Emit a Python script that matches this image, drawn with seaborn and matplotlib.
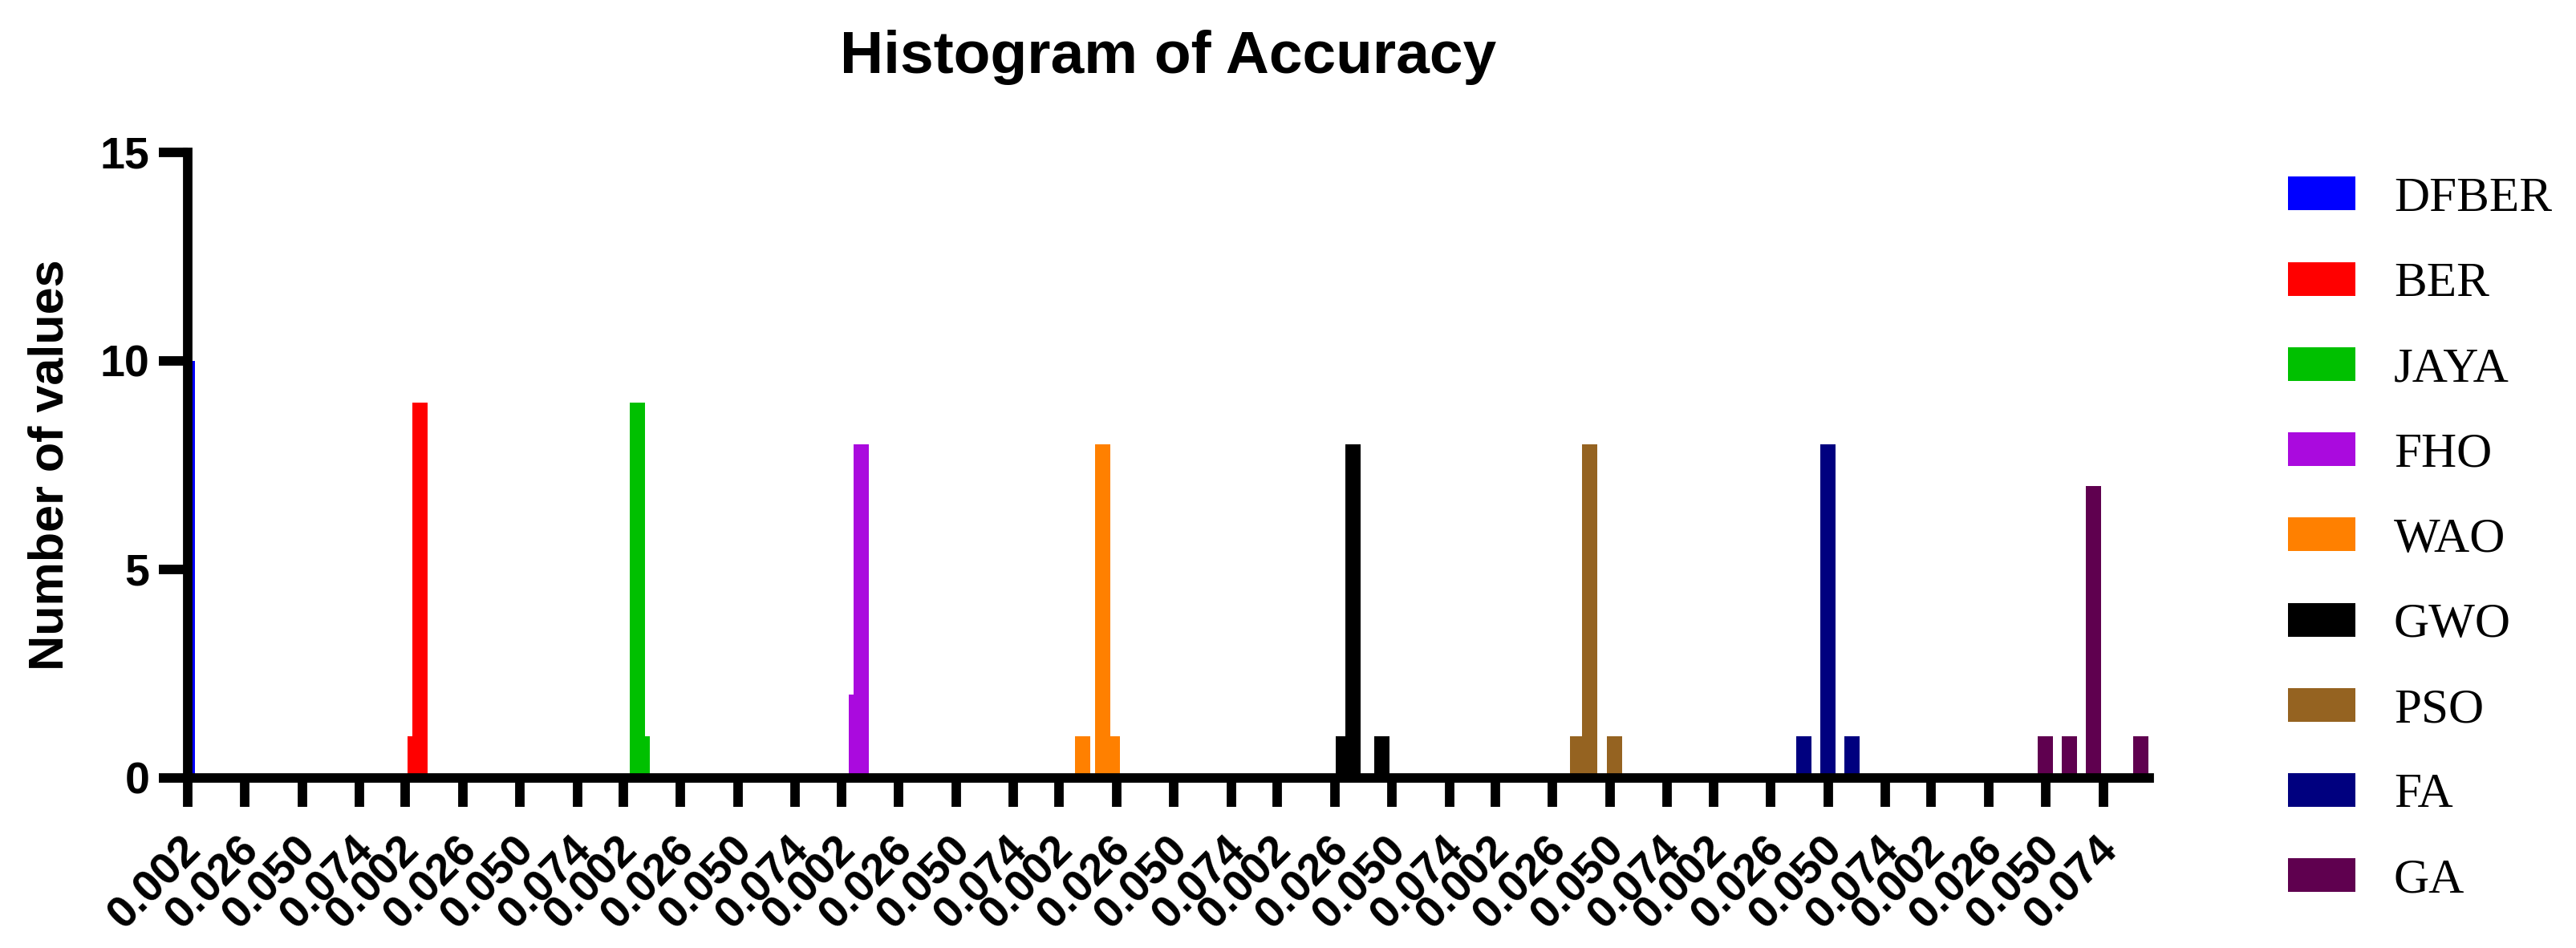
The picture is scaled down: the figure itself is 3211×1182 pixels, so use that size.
import numpy as np
import matplotlib
matplotlib.use("Agg")
import matplotlib.pyplot as plt
import matplotlib.transforms as mtransforms
from matplotlib.patches import Patch
import seaborn as sns

# algorithms, colours and the frequency bins
algorithms = ["DFBER", "BER", "JAYA", "FHO", "WAO", "GWO", "PSO", "FA", "GA"]
colors = ["#0000FF", "#FF0000", "#00C000", "#AA0ADE", "#FF8000",
          "#000000", "#956321", "#00007F", "#5F004F"]

# bin centres (accuracy) and number of values in each bin
dfber_bins, dfber_counts = [0.0020], [10]
ber_bins, ber_counts = [0.0061, 0.0081], [1, 9]
jaya_bins, jaya_counts = [0.0078, 0.0099], [9, 1]
fho_bins, fho_counts = [0.0082, 0.0104], [2, 8]
wao_bins, wao_counts = [0.0117, 0.0201, 0.0243], [1, 8, 1]
gwo_bins, gwo_counts = [0.0297, 0.0337, 0.0457], [1, 8, 1]
pso_bins, pso_counts = [0.0364, 0.0416, 0.0520], [1, 8, 1]
fa_bins, fa_counts = [0.0400, 0.0501, 0.0602], [1, 8, 1]
ga_bins, ga_counts = [0.0498, 0.0598, 0.0698, 0.0898], [1, 1, 7, 1]
bin_widths = [0.0020, 0.0020, 0.0021, 0.0022, 0.0042, 0.0040, 0.0052, 0.0101, 0.0100]

all_bins = [dfber_bins, ber_bins, jaya_bins, fho_bins, wao_bins,
            gwo_bins, pso_bins, fa_bins, ga_bins]
all_counts = [dfber_counts, ber_counts, jaya_counts, fho_counts, wao_counts,
              gwo_counts, pso_counts, fa_counts, ga_counts]

tick_values = [0.002, 0.026, 0.050, 0.074]
tick_labels = ["0.002", "0.026", "0.050", "0.074"]

SEGMENT = 0.0912     # each data set gets its own stretch of the x axis
BAR_WIDTH = 0.0064   # Prism draws every bar with the same width

sns.set_style("ticks")
plt.rcParams["font.family"] = ["Liberation Sans", "DejaVu Sans"]
plt.rcParams["text.color"] = "black"
plt.rcParams["axes.labelcolor"] = "black"
plt.rcParams["axes.edgecolor"] = "black"

fig = plt.figure(figsize=(32.11, 11.82), dpi=100)
ax = fig.add_axes([0.07272, 0.1794, 0.7616, 0.6599])

for g, (name, bins, counts, bw, col) in enumerate(
        zip(algorithms, all_bins, all_counts, bin_widths, colors)):
    off = g * SEGMENT
    x = np.array(bins) + off
    sns.histplot(x=x, weights=counts, binwidth=bw,
                 binrange=(x[0] - bw / 2, x[-1] + bw / 2),
                 shrink=BAR_WIDTH / bw, color=col, alpha=1, linewidth=0,
                 ax=ax)

ax.set_xlim(0.002, 0.002 + len(algorithms) * SEGMENT)
ax.set_ylim(0, 15)
ax.set_yticks([0, 5, 10, 15])

xt = [g * SEGMENT + v for g in range(len(algorithms)) for v in tick_values]
xl = tick_labels * len(algorithms)
ax.set_xticks(xt)
ax.set_xticklabels(xl, rotation=45, ha="right", va="center",
                   rotation_mode="anchor")

for s in ["top", "right"]:
    ax.spines[s].set_visible(False)
for s in ["left", "bottom"]:
    ax.spines[s].set_linewidth(8.5)
    ax.spines[s].set_capstyle("projecting")

ax.tick_params(axis="both", direction="out", length=26, width=8.5,
               labelsize=40, colors="black")
ax.tick_params(axis="x", pad=33)
ax.tick_params(axis="y", pad=8)
shift = mtransforms.ScaledTranslation(7 / 72, 0, fig.dpi_scale_trans)
for lab in ax.get_xticklabels():
    lab.set_fontweight("bold")
    lab.set_transform(lab.get_transform() + shift)
for lab in ax.get_yticklabels():
    lab.set_fontweight("bold")

ax.set_xlabel("")
ax.set_ylabel("Number of values", fontsize=44, fontweight="bold")
ax.yaxis.set_label_coords(-0.058, 0.5)

fig.text(0.07272 + 0.7616 / 2, 1 - 91 / 1182, "Histogram of Accuracy",
         ha="center", va="baseline", fontsize=54, fontweight="bold")

handles = [Patch(facecolor=c, edgecolor="none") for c in colors]
fig.legend(handles, algorithms, loc="center left",
           bbox_to_anchor=(2852 / 3211, 1 - 673 / 1182),
           frameon=False, borderpad=0, borderaxespad=0,
           handlelength=1.38, handleheight=0.68, handletextpad=0.78,
           labelspacing=0.83,
           prop={"family": "Liberation Serif", "size": 44})

fig.savefig("out.png", dpi=100)
